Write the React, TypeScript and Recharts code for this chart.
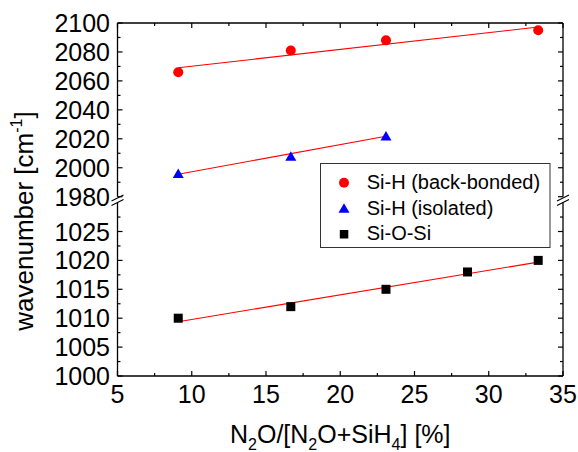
import { ComposedChart, Scatter, XAxis, YAxis } from "recharts";

// N2O/[N2O+SiH4] ratio (%) for each series
const backBondedX = [9.09, 16.67, 23.08, 33.33];
const isolatedX = [9.09, 16.67, 23.08];
const siOSiX = [9.09, 16.67, 23.08, 28.57, 33.33];

// peak positions, cm^-1
const backBondedY = [2066, 2081, 2088, 2095];
const isolatedY = [1996, 2008, 2022];
const siOSiY = [1010, 1012, 1015, 1018, 1020];

// linear fits: start / end of each line
const backBondedFitX = [9.09, 33.33];
const backBondedFitY = [2069.1, 2097.2];
const isolatedFitX = [9.09, 23.08];
const isolatedFitY = [1995.5, 2021.8];
const siOSiFitX = [9.09, 33.33];
const siOSiFitY = [1009.4, 1019.7];

// axes
const xTicks = [5, 7.5, 10, 12.5, 15, 17.5, 20, 22.5, 25, 27.5, 30, 32.5, 35];
const xMajor = [5, 10, 15, 20, 25, 30, 35];
const upperTicks = [1980, 1990, 2000, 2010, 2020, 2030, 2040, 2050, 2060, 2070, 2080, 2090, 2100];
const upperMajor = [1980, 2000, 2020, 2040, 2060, 2080, 2100];
const lowerTicks = [1000, 1002.5, 1005, 1007.5, 1010, 1012.5, 1015, 1017.5, 1020, 1022.5, 1025, 1027.5];
const lowerMajor = [1000, 1005, 1010, 1015, 1020, 1025];

const legendItems = ["Si-H (back-bonded)", "Si-H (isolated)", "Si-O-Si"];

const toPoints = (xs: number[], ys: number[]) => xs.map((x, i) => ({ x, y: ys[i] }));

const FONT = "Arial, 'Liberation Sans', sans-serif";
const RED = "#ff0000";
const BLUE = "#0000ff";
const BLACK = "#000000";

const Dot = (p: any) => <circle cx={p.cx} cy={p.cy} r={5} fill={RED} />;
const Tri = (p: any) => (
  <polygon
    points={`${p.cx},${p.cy - 5} ${p.cx + 5.5},${p.cy + 4.5} ${p.cx - 5.5},${p.cy + 4.5}`}
    fill={BLUE}
  />
);
const Sq = (p: any) => <rect x={p.cx - 4.5} y={p.cy - 4.5} width={9} height={9} fill={BLACK} />;
const NoMark = () => <g />;

type Side = "left" | "right" | "top" | "bottom";

// inward ticks, longer on labelled values
const tickFor = (side: Side, majors: number[], labelled: boolean) => (p: any) => {
  const v = p.payload.value;
  const major = majors.includes(v);
  const len = major ? 5 : 3;
  const { x, y } = p;
  let line;
  if (side === "left") line = <line x1={x} x2={x + len} y1={y} y2={y} />;
  else if (side === "right") line = <line x1={x} x2={x - len} y1={y} y2={y} />;
  else if (side === "top") line = <line x1={x} x2={x} y1={y} y2={y + len} />;
  else line = <line x1={x} x2={x} y1={y} y2={y - len} />;
  return (
    <g>
      <g stroke={BLACK} strokeWidth={1.2}>{line}</g>
      {labelled && major && side === "left" && (
        <text x={x - 7.5} y={y + 9} textAnchor="end" fontSize={25} fontFamily={FONT} fill={BLACK}>
          {v}
        </text>
      )}
      {labelled && major && side === "bottom" && (
        <text x={x} y={y + 27} textAnchor="middle" fontSize={25} fontFamily={FONT} fill={BLACK}>
          {v}
        </text>
      )}
    </g>
  );
};

const axisLine = { stroke: BLACK, strokeWidth: 1.3 };

const XTitle = (props: any) => {
  const vb = props.viewBox;
  const cx = vb.x + vb.width / 2;
  const y = vb.y + 66.5;
  return (
    <text x={cx} y={y} textAnchor="middle" fontSize={25} fontFamily={FONT} fill={BLACK}>
      N<tspan fontSize={16} dy={7.5}>2</tspan>
      <tspan dy={-7.5}>O/[N</tspan>
      <tspan fontSize={16} dy={7.5}>2</tspan>
      <tspan dy={-7.5}>O+SiH</tspan>
      <tspan fontSize={16} dy={7.5}>4</tspan>
      <tspan dy={-7.5}>] [%]</tspan>
    </text>
  );
};

export default function App() {
  return (
    <div
      style={{
        position: "absolute",
        left: 0,
        top: 0,
        width: 578,
        height: 452,
        background: "#fff",
        fontFamily: FONT,
        overflow: "hidden",
      }}
    >
      <style>{`.recharts-surface { overflow: visible; }`}</style>

      {/* upper segment: Si-H bands */}
      <div style={{ position: "absolute", left: 0, top: 0 }}>
        <ComposedChart width={578} height={200} margin={{ top: 22, right: 14, bottom: 3.3, left: 0 }}>
          <XAxis
            xAxisId="t"
            orientation="top"
            type="number"
            dataKey="x"
            domain={[5, 35]}
            allowDataOverflow
            ticks={xTicks}
            interval={0}
            height={1}
            tickSize={0}
            tickMargin={0}
            tickLine={false}
            axisLine={axisLine}
            tick={tickFor("top", xMajor, false)}
          />
          <YAxis
            yAxisId="l"
            type="number"
            dataKey="y"
            domain={[1980, 2100]}
            allowDataOverflow
            ticks={upperTicks}
            interval={0}
            width={117.5}
            tickSize={0}
            tickMargin={0}
            tickLine={false}
            axisLine={axisLine}
            tick={tickFor("left", upperMajor, true)}
          />
          <YAxis
            yAxisId="r"
            orientation="right"
            type="number"
            domain={[1980, 2100]}
            allowDataOverflow
            ticks={upperTicks}
            interval={0}
            width={1}
            tickSize={0}
            tickMargin={0}
            tickLine={false}
            axisLine={axisLine}
            tick={tickFor("right", upperMajor, false)}
          />
          <Scatter
            xAxisId="t"
            yAxisId="l"
            data={toPoints(backBondedFitX, backBondedFitY)}
            line={{ stroke: RED, strokeWidth: 1.1 }}
            shape={NoMark}
            isAnimationActive={false}
          />
          <Scatter
            xAxisId="t"
            yAxisId="l"
            data={toPoints(isolatedFitX, isolatedFitY)}
            line={{ stroke: RED, strokeWidth: 1.1 }}
            shape={NoMark}
            isAnimationActive={false}
          />
          <Scatter
            xAxisId="t"
            yAxisId="l"
            name="Si-H (back-bonded)"
            data={toPoints(backBondedX, backBondedY)}
            shape={Dot}
            isAnimationActive={false}
          />
          <Scatter
            xAxisId="t"
            yAxisId="l"
            name="Si-H (isolated)"
            data={toPoints(isolatedX, isolatedY)}
            shape={Tri}
            isAnimationActive={false}
          />
        </ComposedChart>
      </div>

      {/* lower segment: Si-O-Si band */}
      <div style={{ position: "absolute", left: 0, top: 200 }}>
        <ComposedChart width={578} height={252} margin={{ top: 2.6, right: 14, bottom: 0, left: 0 }}>
          <XAxis
            xAxisId="b"
            type="number"
            dataKey="x"
            domain={[5, 35]}
            allowDataOverflow
            ticks={xTicks}
            interval={0}
            height={76}
            tickSize={0}
            tickMargin={0}
            tickLine={false}
            axisLine={axisLine}
            tick={tickFor("bottom", xMajor, true)}
            label={<XTitle />}
          />
          <YAxis
            yAxisId="l"
            type="number"
            dataKey="y"
            domain={[1000, 1030]}
            allowDataOverflow
            ticks={lowerTicks}
            interval={0}
            width={117.5}
            tickSize={0}
            tickMargin={0}
            tickLine={false}
            axisLine={axisLine}
            tick={tickFor("left", lowerMajor, true)}
          />
          <YAxis
            yAxisId="r"
            orientation="right"
            type="number"
            domain={[1000, 1030]}
            allowDataOverflow
            ticks={lowerTicks}
            interval={0}
            width={1}
            tickSize={0}
            tickMargin={0}
            tickLine={false}
            axisLine={axisLine}
            tick={tickFor("right", lowerMajor, false)}
          />
          <Scatter
            xAxisId="b"
            yAxisId="l"
            data={toPoints(siOSiFitX, siOSiFitY)}
            line={{ stroke: RED, strokeWidth: 1.1 }}
            shape={NoMark}
            isAnimationActive={false}
          />
          <Scatter
            xAxisId="b"
            yAxisId="l"
            name="Si-O-Si"
            data={toPoints(siOSiX, siOSiY)}
            shape={Sq}
            isAnimationActive={false}
          />
        </ComposedChart>
      </div>

      {/* axis title, break marks and legend */}
      <svg
        width={578}
        height={452}
        style={{ position: "absolute", left: 0, top: 0, pointerEvents: "none" }}
      >
        <text
          x={33}
          y={221}
          transform="rotate(-90 33 221)"
          textAnchor="middle"
          fontSize={26}
          fontFamily={FONT}
          fill={BLACK}
        >
          wavenumber [cm<tspan fontSize={16} dy={-11}>-1</tspan>
          <tspan dy={11}>]</tspan>
        </text>

        <g stroke={BLACK} strokeWidth={1.2}>
          <line x1={111.5} y1={201} x2={123.5} y2={195} />
          <line x1={111.5} y1={205.5} x2={123.5} y2={199.5} />
          <line x1={557} y1={201} x2={569} y2={195} />
          <line x1={557} y1={205.5} x2={569} y2={199.5} />
        </g>

        <rect x={320.5} y={163.5} width={229.5} height={84} fill="#fff" stroke="#333" strokeWidth={1} />
        <circle cx={344} cy={182.7} r={5} fill={RED} />
        <polygon points="344,203.3 349.5,212.8 338.5,212.8" fill={BLUE} />
        <rect x={339.8} y={230} width={8.5} height={8.5} fill={BLACK} />
        {legendItems.map((t, i) => (
          <text
            key={t}
            x={366.7}
            y={188.7 + i * 25.8}
            fontSize={20}
            fontFamily={FONT}
            fill={BLACK}
          >
            {t}
          </text>
        ))}
      </svg>
    </div>
  );
}
